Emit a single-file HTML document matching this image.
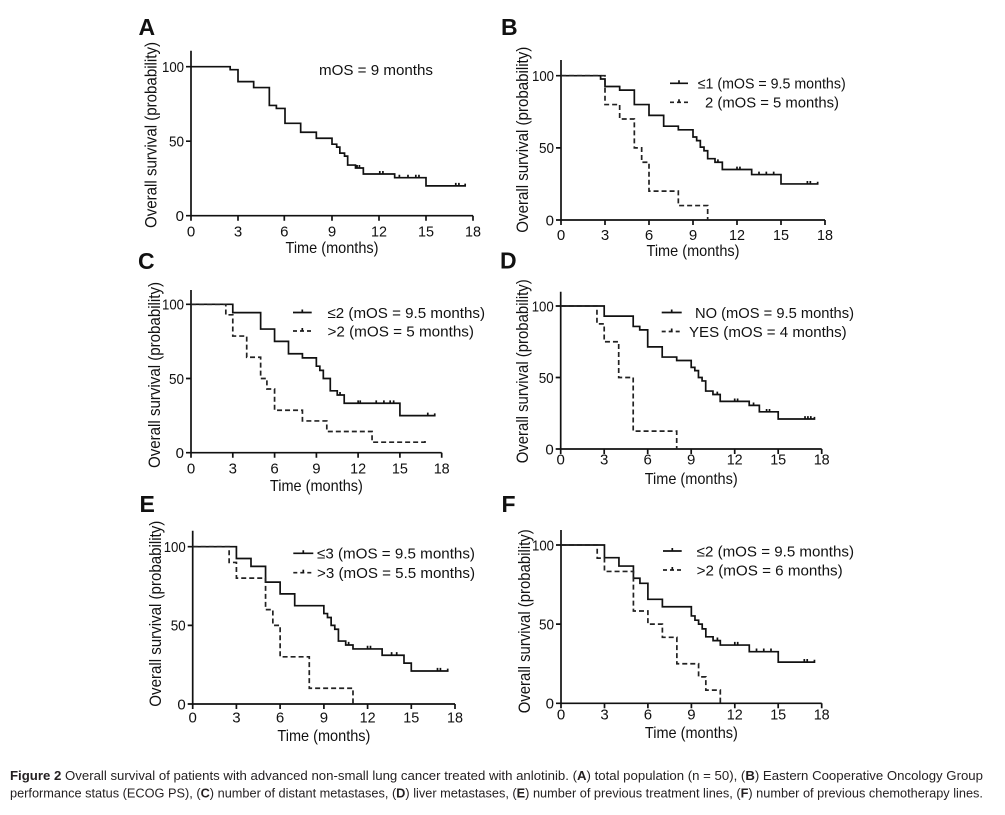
<!DOCTYPE html>
<html><head><meta charset="utf-8"><style>
html,body{margin:0;padding:0;background:#fff;}
svg{display:block;}
text{font-family:"Liberation Sans",Arial,sans-serif;fill:#111;}
.tk{font-size:15px;}
.ax{font-size:16px;}
.ay{font-size:16.5px;}
.lg{font-size:15px;}
.pl{font-size:23px;font-weight:bold;}
.cap{font-size:12.5px;fill:#231f20;}
.axl{fill:none;stroke:#111;stroke-width:1.7;}
.cs{fill:none;stroke:#111;stroke-width:1.7;vector-effect:non-scaling-stroke;}
.cd{fill:none;stroke:#222;stroke-width:1.7;stroke-dasharray:5 3;vector-effect:non-scaling-stroke;}
.ls{fill:none;stroke:#111;stroke-width:1.7;}
.ld{fill:none;stroke:#222;stroke-width:1.7;stroke-dasharray:4 3;}
</style></head><body>
<svg width="1005" height="815" viewBox="0 0 1005 815" xmlns="http://www.w3.org/2000/svg">
<rect width="1005" height="815" fill="#fff"/>

<!-- ============ PANEL A ============ -->
<text class="pl" x="138.5" y="35">A</text>
<path class="axl" d="M191 50.7 V215.7 H473 M186 66.7 H191 M186 141.2 H191 M186 215.7 H191 M191 215.7 v5 M238 215.7 v5 M284.3 215.7 v5 M332 215.7 v5 M379 215.7 v5 M426 215.7 v5 M473 215.7 v5"/>
<g class="tk" text-anchor="end"><text x="184" y="72" textLength="22" lengthAdjust="spacingAndGlyphs">100</text><text x="184" y="146.5" textLength="15" lengthAdjust="spacingAndGlyphs">50</text><text x="184" y="221">0</text></g>
<g class="tk" text-anchor="middle"><text x="191" y="236.5">0</text><text x="238" y="236.5">3</text><text x="284.3" y="236.5">6</text><text x="332" y="236.5">9</text><text x="379" y="236.5" textLength="16" lengthAdjust="spacingAndGlyphs">12</text><text x="426" y="236.5" textLength="16" lengthAdjust="spacingAndGlyphs">15</text><text x="473" y="236.5" textLength="16" lengthAdjust="spacingAndGlyphs">18</text></g>
<text class="ax" x="332" y="253" text-anchor="middle" textLength="93" lengthAdjust="spacingAndGlyphs">Time (months)</text>
<text class="ay" transform="translate(156.5 228) rotate(-90)" x="0" y="0" textLength="186" lengthAdjust="spacingAndGlyphs">Overall survival (probability)</text>
<text class="lg" x="319" y="74.8" textLength="114" lengthAdjust="spacingAndGlyphs">mOS = 9 months</text>
<g transform="translate(191 215.7) scale(15.667 -1.49)">
<path class="cs" d="M0 100 H2.5 V98 H3 V90 H4 V86 H5 V74 H5.45 V72 H6 V62 H7 V56 H8 V52 H9 V48 H9.3 V46 H9.5 V42 H9.8 V40 H10 V34 H10.5 V32 H11 V28 H13 V25.5 H15 V20 H17.5 V21.5
M10.6 32 v2 M10.75 32 v2 M12.05 28 v2 M12.25 28 v2 M13.3 25.5 v2 M13.85 25.5 v2 M14.35 25.5 v2 M14.55 25.5 v2 M16.9 20 v2 M17.1 20 v2"/>
</g>

<!-- ============ PANEL B ============ -->
<text class="pl" x="501" y="35">B</text>
<path class="axl" d="M561 60 V220 H825 M556 75.7 H561 M556 147.85 H561 M556 220 H561 M561 220 v5 M605 220 v5 M649 220 v5 M693 220 v5 M737 220 v5 M781 220 v5 M825 220 v5"/>
<g class="tk" text-anchor="end"><text x="554" y="81" textLength="22" lengthAdjust="spacingAndGlyphs">100</text><text x="554" y="153.2" textLength="15" lengthAdjust="spacingAndGlyphs">50</text><text x="554" y="225.3">0</text></g>
<g class="tk" text-anchor="middle"><text x="561" y="240">0</text><text x="605" y="240">3</text><text x="649" y="240">6</text><text x="693" y="240">9</text><text x="737" y="240" textLength="16" lengthAdjust="spacingAndGlyphs">12</text><text x="781" y="240" textLength="16" lengthAdjust="spacingAndGlyphs">15</text><text x="825" y="240" textLength="16" lengthAdjust="spacingAndGlyphs">18</text></g>
<text class="ax" x="693" y="256" text-anchor="middle" textLength="93" lengthAdjust="spacingAndGlyphs">Time (months)</text>
<text class="ay" transform="translate(528 232.7) rotate(-90)" x="0" y="0" textLength="186" lengthAdjust="spacingAndGlyphs">Overall survival (probability)</text>
<path class="ls" d="M670 83.3 H688 M679 83.3 v-3"/>
<path class="ld" d="M670 102.3 H688"/><path class="ls" d="M679 102.3 v-3"/>
<text class="lg" x="697.7" y="88.5" textLength="148" lengthAdjust="spacingAndGlyphs">≤1 (mOS = 9.5 months)</text>
<text class="lg" x="705" y="107.5" textLength="134" lengthAdjust="spacingAndGlyphs">2 (mOS = 5 months)</text>
<g transform="translate(561 220) scale(14.667 -1.443)">
<path class="cs" d="M0 100 H2.7 V97.7 H3 V92.5 H4 V90 H5 V80 H6 V72.5 H7 V65 H8 V62.5 H9 V57.5 H9.25 V55 H9.5 V50.5 H9.75 V48 H10 V42.5 H10.5 V40 H11 V35 H13 V31.5 H15 V25 H17.5 V26.5
M10.7 40 v2 M12 35 v2 M12.2 35 v2 M13.5 31.5 v2 M14 31.5 v2 M14.5 31.5 v2 M16.8 25 v2 M17 25 v2"/>
<path class="cd" d="M0 100 H3 V80 H4 V70 H5 V50 H5.5 V40 H6 V20 H8 V10 H10 V0"/>
</g>

<!-- ============ PANEL C ============ -->
<text class="pl" x="138" y="269">C</text>
<path class="axl" d="M191 290 V452.7 H441.7 M186 304.3 H191 M186 378.5 H191 M186 452.7 H191 M191 452.7 v5 M232.8 452.7 v5 M274.6 452.7 v5 M316.4 452.7 v5 M358.1 452.7 v5 M399.9 452.7 v5 M441.7 452.7 v5"/>
<g class="tk" text-anchor="end"><text x="184" y="309.6" textLength="22" lengthAdjust="spacingAndGlyphs">100</text><text x="184" y="383.8" textLength="15" lengthAdjust="spacingAndGlyphs">50</text><text x="184" y="458">0</text></g>
<g class="tk" text-anchor="middle"><text x="191" y="473.5">0</text><text x="232.8" y="473.5">3</text><text x="274.6" y="473.5">6</text><text x="316.4" y="473.5">9</text><text x="358.1" y="473.5" textLength="16" lengthAdjust="spacingAndGlyphs">12</text><text x="399.9" y="473.5" textLength="16" lengthAdjust="spacingAndGlyphs">15</text><text x="441.7" y="473.5" textLength="16" lengthAdjust="spacingAndGlyphs">18</text></g>
<text class="ax" x="316.4" y="491" text-anchor="middle" textLength="93" lengthAdjust="spacingAndGlyphs">Time (months)</text>
<text class="ay" transform="translate(160 468) rotate(-90)" x="0" y="0" textLength="186" lengthAdjust="spacingAndGlyphs">Overall survival (probability)</text>
<path class="ls" d="M293 312.5 H311.7 M302.3 312.5 v-3"/>
<path class="ld" d="M293 331 H311.7"/><path class="ls" d="M302.3 331 v-3"/>
<text class="lg" x="327.5" y="317.8" textLength="157.5" lengthAdjust="spacingAndGlyphs">≤2 (mOS = 9.5 months)</text>
<text class="lg" x="327.5" y="336.3" textLength="146.5" lengthAdjust="spacingAndGlyphs">&gt;2 (mOS = 5 months)</text>
<g transform="translate(191 452.7) scale(13.928 -1.484)">
<path class="cs" d="M0 100 H3 V94.4 H5 V83.3 H6 V75 H7 V66.7 H8 V63.9 H9 V58.3 H9.25 V55.5 H9.5 V50 H10 V41.7 H10.5 V38.9 H11 V33.3 H15 V25 H17.5 V26.5
M10.7 38.9 v2 M12 33.3 v2 M12.15 33.3 v2 M13.3 33.3 v2 M13.85 33.3 v2 M14.3 33.3 v2 M14.55 33.3 v2 M17 25 v2"/>
<path class="cd" d="M0 100 H2.5 V92.9 H3 V78.6 H4 V64.3 H5 V50 H5.45 V42.9 H6 V28.6 H8 V21.4 H9.75 V14.3 H13 V7.1 H16.8 V8.6"/>
</g>

<!-- ============ PANEL D ============ -->
<text class="pl" x="500" y="268.5">D</text>
<path class="axl" d="M560.7 291.7 V449 H821.7 M555.7 306 H560.7 M555.7 377.5 H560.7 M555.7 449 H560.7 M560.7 449 v5 M604.2 449 v5 M647.7 449 v5 M691.2 449 v5 M734.7 449 v5 M778.2 449 v5 M821.7 449 v5"/>
<g class="tk" text-anchor="end"><text x="553.7" y="311.3" textLength="22" lengthAdjust="spacingAndGlyphs">100</text><text x="553.7" y="382.8" textLength="15" lengthAdjust="spacingAndGlyphs">50</text><text x="553.7" y="454.3">0</text></g>
<g class="tk" text-anchor="middle"><text x="560.7" y="464.5">0</text><text x="604.2" y="464.5">3</text><text x="647.7" y="464.5">6</text><text x="691.2" y="464.5">9</text><text x="734.7" y="464.5" textLength="16" lengthAdjust="spacingAndGlyphs">12</text><text x="778.2" y="464.5" textLength="16" lengthAdjust="spacingAndGlyphs">15</text><text x="821.7" y="464.5" textLength="16" lengthAdjust="spacingAndGlyphs">18</text></g>
<text class="ax" x="691.2" y="484" text-anchor="middle" textLength="93" lengthAdjust="spacingAndGlyphs">Time (months)</text>
<text class="ay" transform="translate(528 463.3) rotate(-90)" x="0" y="0" textLength="184" lengthAdjust="spacingAndGlyphs">Overall survival (probability)</text>
<path class="ls" d="M661.7 312.5 H681.7 M671.7 312.5 v-3"/>
<path class="ld" d="M661.7 331.5 H681.7"/><path class="ls" d="M671.7 331.5 v-3"/>
<text class="lg" x="695" y="317.8" textLength="159" lengthAdjust="spacingAndGlyphs">NO (mOS = 9.5 months)</text>
<text class="lg" x="689" y="336.8" textLength="157.7" lengthAdjust="spacingAndGlyphs">YES (mOS = 4 months)</text>
<g transform="translate(560.7 449) scale(14.5 -1.43)">
<path class="cs" d="M0 100 H3 V92.9 H5 V85.7 H5.45 V83.3 H6 V71.4 H7 V64.3 H8 V61.9 H9 V57.1 H9.25 V54.8 H9.5 V50 H9.75 V47.6 H10 V40.5 H10.5 V38.1 H11 V33.3 H13 V30.5 H13.7 V26 H15 V21 H17.5 V22.5
M10.8 38.1 v2 M12 33.3 v2 M12.2 33.3 v2 M13.3 30.5 v2 M14.2 26 v2 M14.4 26 v2 M16.85 21 v2 M17.05 21 v2 M17.25 21 v2"/>
<path class="cd" d="M0 100 H2.5 V87.5 H3 V75 H4 V50 H5 V12.5 H8 V0"/>
</g>

<!-- ============ PANEL E ============ -->
<text class="pl" x="139.5" y="512">E</text>
<path class="axl" d="M192.7 530.7 V704 H455 M187.7 546.7 H192.7 M187.7 625.35 H192.7 M187.7 704 H192.7 M192.7 704 v5 M236.4 704 v5 M280.1 704 v5 M323.9 704 v5 M367.6 704 v5 M411.3 704 v5 M455 704 v5"/>
<g class="tk" text-anchor="end"><text x="185.7" y="552" textLength="22" lengthAdjust="spacingAndGlyphs">100</text><text x="185.7" y="630.7" textLength="15" lengthAdjust="spacingAndGlyphs">50</text><text x="185.7" y="709.3">0</text></g>
<g class="tk" text-anchor="middle"><text x="192.7" y="722.5">0</text><text x="236.4" y="722.5">3</text><text x="280.1" y="722.5">6</text><text x="323.9" y="722.5">9</text><text x="367.6" y="722.5" textLength="16" lengthAdjust="spacingAndGlyphs">12</text><text x="411.3" y="722.5" textLength="16" lengthAdjust="spacingAndGlyphs">15</text><text x="455" y="722.5" textLength="16" lengthAdjust="spacingAndGlyphs">18</text></g>
<text class="ax" x="323.9" y="741" text-anchor="middle" textLength="93" lengthAdjust="spacingAndGlyphs">Time (months)</text>
<text class="ay" transform="translate(161 706.7) rotate(-90)" x="0" y="0" textLength="186" lengthAdjust="spacingAndGlyphs">Overall survival (probability)</text>
<path class="ls" d="M293.3 553.3 H313.3 M303.3 553.3 v-3"/>
<path class="ld" d="M293.3 572.7 H313.3"/><path class="ls" d="M303.3 572.7 v-3"/>
<text class="lg" x="317" y="558.6" textLength="158" lengthAdjust="spacingAndGlyphs">≤3 (mOS = 9.5 months)</text>
<text class="lg" x="317" y="578" textLength="158" lengthAdjust="spacingAndGlyphs">&gt;3 (mOS = 5.5 months)</text>
<g transform="translate(192.7 704) scale(14.572 -1.573)">
<path class="cs" d="M0 100 H3 V92.5 H4 V87.5 H5 V77.5 H6 V70 H7 V62.5 H9 V57.5 H9.25 V55 H9.5 V50 H9.75 V47.5 H10 V40 H10.5 V37.5 H11 V35 H13 V31 H14.5 V26 H15 V21 H17.5 V22.5
M10.7 37.5 v2 M12 35 v2 M12.2 35 v2 M13.65 31 v2 M14 31 v2 M16.8 21 v2 M17 21 v2"/>
<path class="cd" d="M0 100 H2.5 V90 H3 V80 H5 V60 H5.5 V50 H6 V30 H8 V10 H11 V0"/>
</g>

<!-- ============ PANEL F ============ -->
<text class="pl" x="501.5" y="512">F</text>
<path class="axl" d="M561 530 V703.3 H821.7 M556 545 H561 M556 624.15 H561 M556 703.3 H561 M561 703.3 v5 M604.5 703.3 v5 M647.9 703.3 v5 M691.4 703.3 v5 M734.8 703.3 v5 M778.2 703.3 v5 M821.7 703.3 v5"/>
<g class="tk" text-anchor="end"><text x="554" y="550.3" textLength="22" lengthAdjust="spacingAndGlyphs">100</text><text x="554" y="629.5" textLength="15" lengthAdjust="spacingAndGlyphs">50</text><text x="554" y="708.6">0</text></g>
<g class="tk" text-anchor="middle"><text x="561" y="719.5">0</text><text x="604.5" y="719.5">3</text><text x="647.9" y="719.5">6</text><text x="691.4" y="719.5">9</text><text x="734.8" y="719.5" textLength="16" lengthAdjust="spacingAndGlyphs">12</text><text x="778.2" y="719.5" textLength="16" lengthAdjust="spacingAndGlyphs">15</text><text x="821.7" y="719.5" textLength="16" lengthAdjust="spacingAndGlyphs">18</text></g>
<text class="ax" x="691.4" y="738" text-anchor="middle" textLength="93" lengthAdjust="spacingAndGlyphs">Time (months)</text>
<text class="ay" transform="translate(530 713.3) rotate(-90)" x="0" y="0" textLength="184" lengthAdjust="spacingAndGlyphs">Overall survival (probability)</text>
<path class="ls" d="M663 551 H681.7 M672.3 551 v-3"/>
<path class="ld" d="M663 570 H681.7"/><path class="ls" d="M672.3 570 v-3"/>
<text class="lg" x="696.7" y="556.3" textLength="157.3" lengthAdjust="spacingAndGlyphs">≤2 (mOS = 9.5 months)</text>
<text class="lg" x="696.7" y="575.3" textLength="146" lengthAdjust="spacingAndGlyphs">&gt;2 (mOS = 6 months)</text>
<g transform="translate(561 703.3) scale(14.483 -1.583)">
<path class="cs" d="M0 100 H3 V92 H4 V86.7 H5 V79 H5.45 V75.8 H6 V65.7 H7 V61 H9 V55.2 H9.25 V52.5 H9.5 V50 H9.75 V47 H10 V42 H10.5 V39.6 H11 V36.8 H13 V32.6 H15 V26 H17.5 V27.5
M10.8 39.6 v2 M12 36.8 v2 M12.2 36.8 v2 M13.5 32.6 v2 M14 32.6 v2 M14.5 32.6 v2 M16.8 26 v2 M17 26 v2"/>
<path class="cd" d="M0 100 H2.5 V91.7 H3 V83.3 H5 V58.3 H6 V50 H7 V41.7 H8 V25 H9.5 V16.7 H10 V8.3 H11 V0"/>
</g>

<!-- ============ CAPTION ============ -->
<text class="cap" x="10" y="780" textLength="973" lengthAdjust="spacingAndGlyphs"><tspan font-weight="bold">Figure 2</tspan> Overall survival of patients with advanced non-small lung cancer treated with anlotinib. (<tspan font-weight="bold">A</tspan>) total population (n = 50), (<tspan font-weight="bold">B</tspan>) Eastern Cooperative Oncology Group</text>
<text class="cap" x="10" y="797.7" textLength="973" lengthAdjust="spacingAndGlyphs">performance status (ECOG PS), (<tspan font-weight="bold">C</tspan>) number of distant metastases, (<tspan font-weight="bold">D</tspan>) liver metastases, (<tspan font-weight="bold">E</tspan>) number of previous treatment lines, (<tspan font-weight="bold">F</tspan>) number of previous chemotherapy lines.</text>
</svg>
</body></html>
